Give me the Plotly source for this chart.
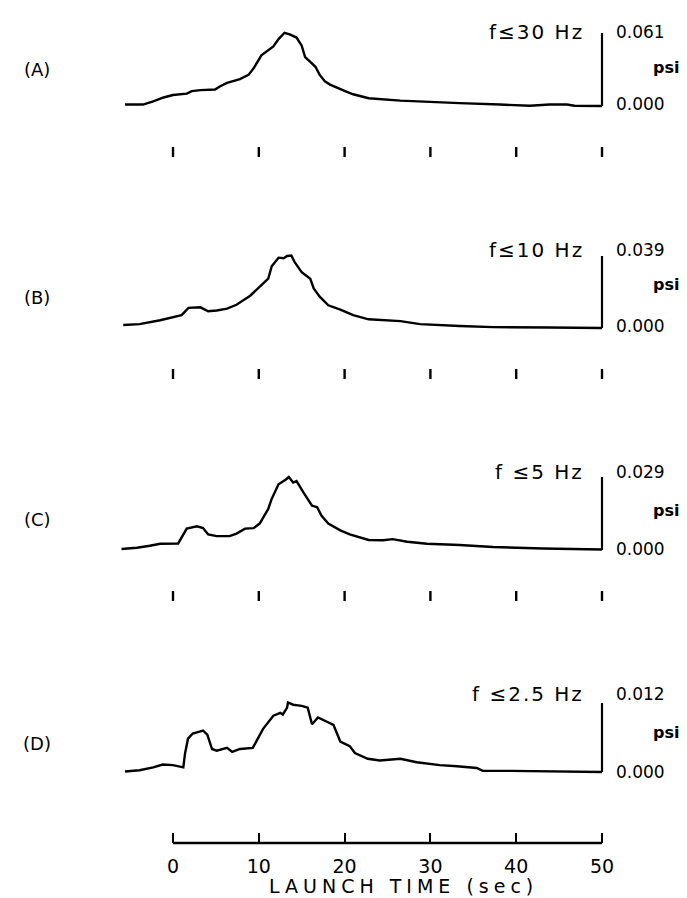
import plotly.graph_objects as go

# ---------------- data (time in s, pressure in psi) ----------------
A_t = [-5.6, -3.5, -2.3, -1.1, 0.0, 1.6, 2.2, 3.2, 4.9, 5.5, 6.3, 7.2, 7.8, 8.8, 9.4,
       10.3, 11.1, 11.7, 12.3, 13.0, 13.6, 14.4, 15.0, 15.4, 16.0, 16.6, 17.1, 17.7, 18.3,
       19.1, 20.2, 21.0, 22.8, 26.5, 30.0, 33.4, 38.1, 41.6, 43.9, 45.9, 46.8, 50.0]
A_v = [0.0012, 0.0012, 0.0038, 0.0071, 0.0092, 0.0103, 0.0124, 0.0133, 0.0138, 0.0165,
       0.0193, 0.0211, 0.0225, 0.0260, 0.0315, 0.0423, 0.0463, 0.0498, 0.0559, 0.0612,
       0.0599, 0.0572, 0.0504, 0.0409, 0.0368, 0.0328, 0.0260, 0.0206, 0.0179, 0.0152,
       0.0120, 0.0098, 0.0065, 0.0045, 0.0033, 0.0024, 0.0012, 0.0002, 0.0012, 0.0012,
       0.0002, 0.0]

B_t = [-5.8, -3.9, -1.5, 0.0, 1.0, 1.8, 3.2, 4.1, 5.1, 6.3, 7.4, 9.0, 10.1, 11.1, 11.5,
       12.3, 12.9, 13.3, 13.8, 14.2, 15.0, 16.0, 16.4, 17.1, 18.1, 19.5, 21.0, 22.8, 26.5,
       28.8, 33.4, 37.3, 43.9, 50.0]
B_v = [0.0016, 0.0021, 0.0042, 0.0060, 0.0070, 0.0109, 0.0112, 0.0091, 0.0095, 0.0105,
       0.0126, 0.0175, 0.0223, 0.0267, 0.0334, 0.0381, 0.0378, 0.0390, 0.0392, 0.0355,
       0.0302, 0.0267, 0.0214, 0.0170, 0.0123, 0.0100, 0.0070, 0.0047, 0.0037, 0.0021,
       0.0011, 0.0005, 0.0003, 0.0]

C_t = [-6.0, -4.2, -2.7, -1.5, 0.6, 1.0, 1.6, 2.8, 3.5, 4.1, 5.1, 6.6, 7.4, 8.4, 9.4,
       10.1, 11.1, 11.5, 12.3, 13.2, 13.5, 14.0, 14.4, 15.2, 16.2, 16.8, 17.3, 18.1, 19.5,
       20.6, 22.8, 24.5, 25.6, 27.3, 29.6, 33.4, 37.3, 43.1, 50.0]
C_v = [0.0004, 0.0009, 0.0017, 0.0025, 0.0026, 0.0052, 0.0085, 0.0094, 0.0087, 0.0062,
       0.0055, 0.0055, 0.0065, 0.0085, 0.0087, 0.0105, 0.0163, 0.0203, 0.0261, 0.0281,
       0.0290, 0.0268, 0.0274, 0.0229, 0.0176, 0.0170, 0.0137, 0.0105, 0.0078, 0.0062,
       0.0040, 0.0039, 0.0043, 0.0033, 0.0025, 0.0020, 0.0012, 0.0006, 0.0002]

D_t = [-5.6, -3.9, -2.3, -1.2, 0.0, 1.2, 1.4, 1.75, 2.3, 3.5, 4.0, 4.55, 5.1, 6.3, 6.9,
       7.8, 9.3, 10.5, 11.7, 12.5, 12.8, 13.3, 13.4, 14.0, 15.0, 15.7, 16.2, 16.9, 18.0,
       18.7, 19.5, 20.6, 21.2, 22.7, 24.1, 26.5, 28.4, 31.1, 33.1, 35.4, 36.1, 39.3, 50.0]
D_v = [0.0001, 0.0003, 0.0008, 0.0013, 0.0012, 0.0008, 0.0032, 0.0058, 0.0067, 0.0072,
       0.0065, 0.0040, 0.0037, 0.0042, 0.0035, 0.0040, 0.0042, 0.0075, 0.0098, 0.0103,
       0.0100, 0.0112, 0.0121, 0.0117, 0.0115, 0.0112, 0.0083, 0.0095, 0.0087, 0.0082,
       0.0053, 0.0045, 0.0033, 0.0023, 0.0020, 0.0023, 0.0017, 0.0012, 0.0010, 0.0007,
       0.0002, 0.0002, 0.0]

full_scale = [0.061, 0.039, 0.029, 0.012]
full_scale_text = ["0.061", "0.039", "0.029", "0.012"]
zero_text = "0.000"
unit_text = "psi"
filter_text = ["f≤30 Hz", "f≤10 Hz", "f ≤5 Hz", "f ≤2.5 Hz"]
panel_text = ["(A)", "(B)", "(C)", "(D)"]
x_ticks = [0, 10, 20, 30, 40, 50]
x_ticklabels = ["0", "10", "20", "30", "40", "50"]
x_title = "LAUNCH TIME (sec)"
scale_bar_time = 50

series_t = [A_t, B_t, C_t, D_t]
series_v = [A_v, B_v, C_v, D_v]

# ---------------- layout geometry (pixels) ----------------
W, H = 687, 898
X0_PX, PX_PER_S = 173, 8.58
FONT = "DejaVu Sans"
panels = [
    dict(yb=106, yt=33, lab=70, top=32, psi=68, zero=104),
    dict(yb=328, yt=256, lab=297, top=250, psi=284, zero=326),
    dict(yb=550, yt=477, lab=520, top=472, psi=510, zero=549),
    dict(yb=772, yt=703, lab=743, top=694, psi=733, zero=772),
]
AXIS_PX = 843


def py(p):
    return (H - p) / H


def px(p):
    return p / W


fig = go.Figure()
shapes = []
annotations = []
layout_axes = {}

for i, (P, F) in enumerate(zip(panels, full_scale)):
    ppu = (P["yb"] - P["yt"]) / F
    top_pix = max(P["yt"] - 30, 0)
    bot_pix = AXIS_PX if i == 3 else P["yb"] + 62
    yname = "y" if i == 0 else f"y{i+1}"
    lname = "yaxis" if i == 0 else f"yaxis{i+1}"
    layout_axes[lname] = dict(
        domain=[py(bot_pix), py(top_pix)],
        range=[-(bot_pix - P["yb"]) / ppu, (P["yb"] - top_pix) / ppu],
        visible=False, fixedrange=True,
    )
    fig.add_trace(go.Scatter(
        x=series_t[i], y=series_v[i], mode="lines",
        line=dict(color="black", width=2.4), xaxis="x", yaxis=yname,
        showlegend=False, hoverinfo="skip",
    ))
    shapes.append(dict(type="line", xref="x", yref=yname,
                       x0=scale_bar_time, x1=scale_bar_time, y0=0, y1=F,
                       line=dict(color="black", width=2.2)))
    if i < 3:
        for tv in x_ticks:
            shapes.append(dict(type="line", xref="x", yref=yname,
                               x0=tv, x1=tv, y0=-41 / ppu, y1=-51 / ppu,
                               line=dict(color="black", width=2.4)))
    annotations += [
        dict(text=panel_text[i], xref="paper", yref="paper", x=px(37), y=py(P["lab"]),
             xanchor="center", yanchor="middle", showarrow=False,
             font=dict(family=FONT, size=18, color="black")),
        dict(text='<span style="letter-spacing:2px">' + filter_text[i] + '</span>',
             xref="paper", yref="paper", x=px(586), y=py(P["top"]),
             xanchor="right", yanchor="middle", showarrow=False,
             font=dict(family=FONT, size=20, color="black")),
        dict(text=full_scale_text[i], xref="paper", yref="paper", x=px(614), y=py(P["top"]),
             xanchor="left", yanchor="middle", showarrow=False,
             font=dict(family=FONT, size=17, color="black")),
        dict(text="<b>" + unit_text + "</b>", xref="paper", yref="paper", x=px(651), y=py(P["psi"]),
             xanchor="left", yanchor="middle", showarrow=False,
             font=dict(family=FONT, size=16, color="black")),
        dict(text=zero_text, xref="paper", yref="paper", x=px(614), y=py(P["zero"]),
             xanchor="left", yanchor="middle", showarrow=False,
             font=dict(family=FONT, size=17, color="black")),
    ]

shapes.append(dict(type="line", xref="x", yref="paper", x0=x_ticks[0], x1=x_ticks[-1],
                   y0=py(AXIS_PX), y1=py(AXIS_PX), line=dict(color="black", width=2.4)))
annotations.append(dict(
    text='<span style="letter-spacing:5px">' + x_title + '</span>',
    xref="paper", yref="paper", x=px(403), y=py(886), xanchor="center", yanchor="middle",
    showarrow=False, font=dict(family=FONT, size=19, color="black")))

fig.update_layout(
    width=W, height=H, margin=dict(l=0, r=0, t=0, b=0),
    paper_bgcolor="white", plot_bgcolor="white",
    xaxis=dict(range=[-X0_PX / PX_PER_S, (W - X0_PX) / PX_PER_S], anchor="y4",
               showgrid=False, zeroline=False, showline=False,
               ticks="inside", ticklen=10, tickwidth=2.4, tickcolor="black",
               tickvals=x_ticks, ticktext=x_ticklabels, ticklabelstandoff=10,
               tickfont=dict(family=FONT, size=19, color="black"), fixedrange=True),
    shapes=shapes, annotations=annotations, **layout_axes,
)

fig.write_html("out.html", config={"displayModeBar": False},
               post_script="document.body.style.margin='0';")
